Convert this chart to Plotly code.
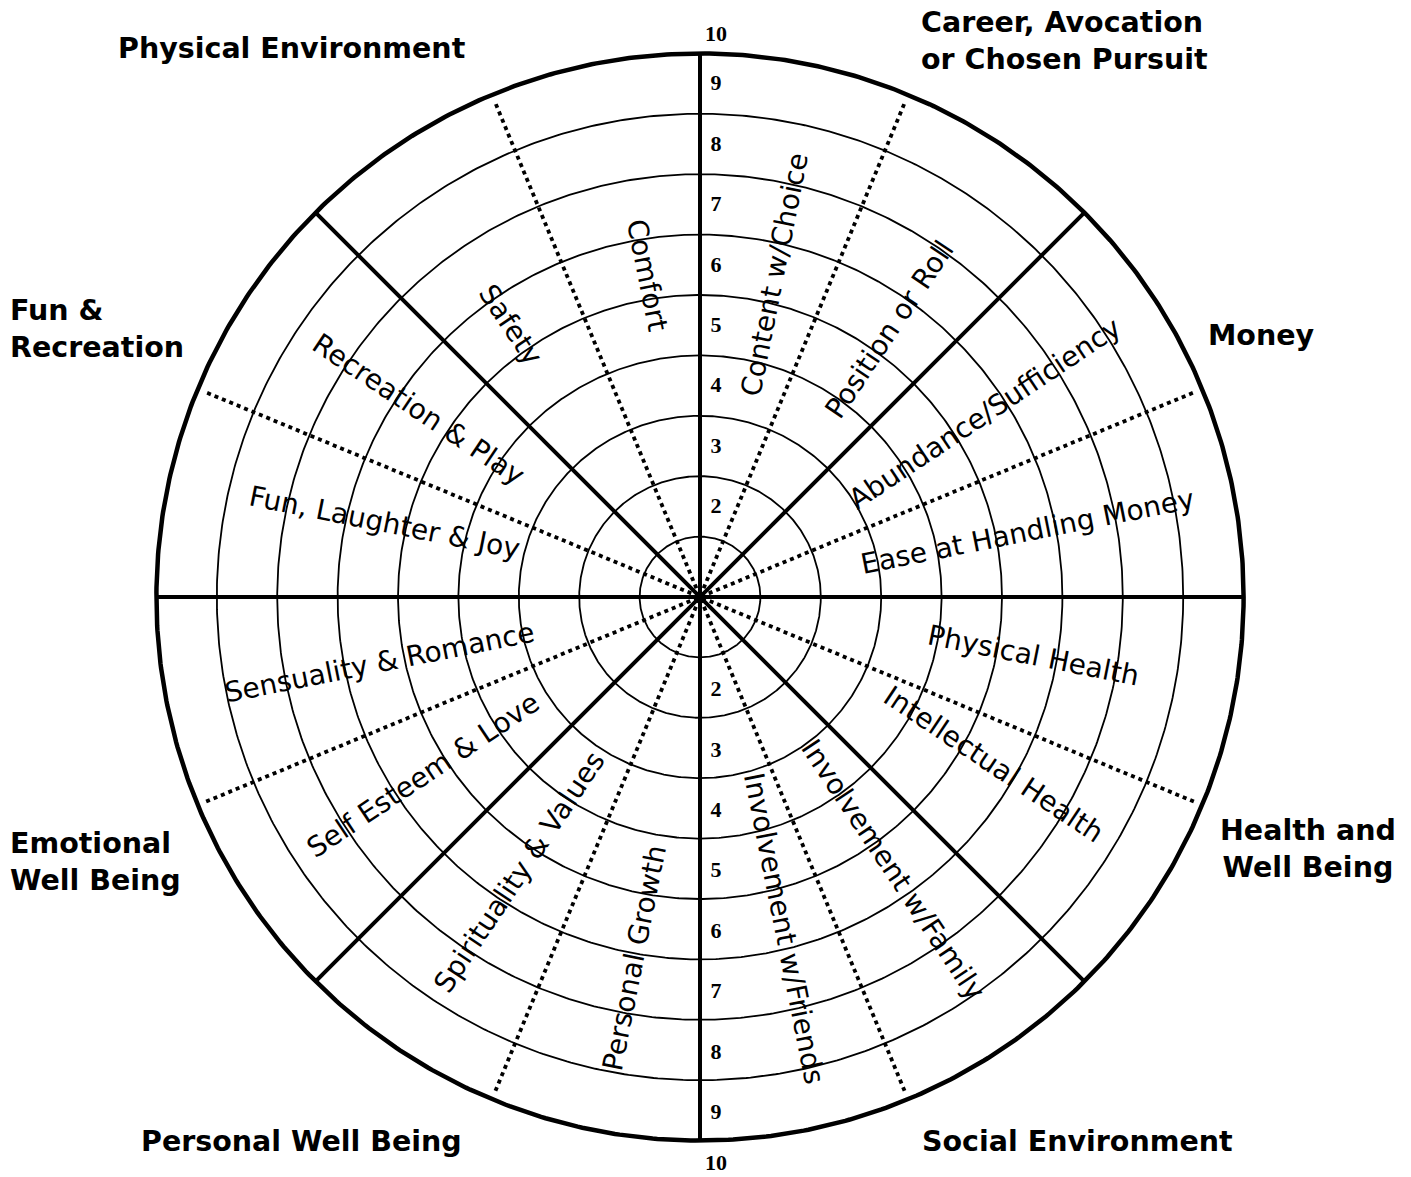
import numpy as np
import plotly.graph_objects as go

# ---------------- data ----------------
ring_values = [1, 2, 3, 4, 5, 6, 7, 8, 9]          # concentric rings (9 = outer rim)
tick_labels = ["2", "3", "4", "5", "6", "7", "8", "9", "10"]
tick_values = [2, 3, 4, 5, 6, 7, 8, 9, 10]

# main life areas (one per 45-degree sector, counter-clockwise from 0 deg)
categories = [
    "Money",
    "Career, Avocation<br>or Chosen Pursuit",
    "Physical Environment",
    "Fun &<br>Recreation",
    "Emotional<br>Well Being",
    "Personal Well Being",
    "Social Environment",
    "Health and<br>Well Being",
]

# sub areas (one per 22.5-degree half-sector, counter-clockwise from 0 deg)
sub_areas = [
    "Ease at Handling Money",
    "Abundance/Sufficiency",
    "Position or Roll",
    "Content w/Choice",
    "Comfort",
    "Safety",
    "Recreation & Play",
    "Fun, Laughter & Joy",
    "Sensuality & Romance",
    "Self Esteem & Love",
    "Spirituality & Values",
    "Personal Growth",
    "Involvement w/Friends",
    "Involvement w/Family",
    "Intellectual Health",
    "Physical Health",
]

# ---------------- layout helpers ----------------
W, H = 1411, 1177
PX = 60.4          # pixels per ring
CX, CY = 700, 597  # centre in pixels


def from_px(x, y):
    return (x - CX) / PX, (CY - y) / PX


fig = go.Figure()

theta = np.linspace(0, 2 * np.pi, 721)
for r in ring_values:
    outer = r == max(ring_values)
    fig.add_trace(go.Scatter(
        x=r * np.cos(theta), y=r * np.sin(theta), mode="lines",
        line=dict(color="black", width=4.5 if outer else 1.8),
        hoverinfo="skip", showlegend=False))

R = max(ring_values)
# solid spokes (sector borders)
for k in range(4):
    a = np.deg2rad(45 * k)
    fig.add_trace(go.Scatter(
        x=[-R * np.cos(a), R * np.cos(a)], y=[-R * np.sin(a), R * np.sin(a)],
        mode="lines", line=dict(color="black", width=4),
        hoverinfo="skip", showlegend=False))
# dotted spokes (half-sector borders)
RD = R - 0.15
for k in range(4):
    a = np.deg2rad(22.5 + 45 * k)
    fig.add_trace(go.Scatter(
        x=[-RD * np.cos(a), RD * np.cos(a)], y=[-RD * np.sin(a), RD * np.sin(a)],
        mode="lines", line=dict(color="black", width=3.8, dash="4px,4px"),
        hoverinfo="skip", showlegend=False))

# scale numbers on the vertical axis
tx = 16 / PX
top_y = [v - 0.52 if v < 10 else 9.3 for v in tick_values]
bot_y = [-(v - 0.45) if v < 10 else -9.4 for v in tick_values]
fig.add_trace(go.Scatter(
    x=[tx] * len(tick_values) * 2, y=top_y + bot_y,
    text=tick_labels + tick_labels, mode="text",
    textfont=dict(family="Liberation Serif", size=22, color="black", weight="bold"),
    hoverinfo="skip", showlegend=False))

annotations = []
# sub-area labels placed along each half-sector's middle direction
sub_r = [5.53, 5.61, 5.43, 5.48, 5.4, 5.48, 5.6, 5.37,
         5.41, 5.46, 5.44, 6.07, 5.66, 5.53, 5.6, 5.6]
sub_da = [0, -1, -1.5, -1.8, -2, 1, 0, -2,
          0.3, -1, 0.5, 1, 3, 1.5, 4, 1.3]
for i, name in enumerate(sub_areas):
    mid = 11.25 + 22.5 * i
    a = np.deg2rad(mid + sub_da[i])
    ang = -mid
    while ang <= -90:
        ang += 180
    while ang > 90:
        ang -= 180
    annotations.append(dict(
        x=sub_r[i] * np.cos(a), y=sub_r[i] * np.sin(a), text=name,
        textangle=ang, showarrow=False, xanchor="center", yanchor="middle",
        font=dict(family="DejaVu Sans", size=28, color="black")))

# main area labels (pixel positions of their anchors)
cat_pos = [
    (1261, 335, "center", "center"),
    (919, 41, "left", "left"),
    (291, 48, "center", "center"),
    (8, 329, "left", "left"),
    (8, 862, "left", "left"),
    (301, 1141, "center", "center"),
    (1077, 1141, "center", "center"),
    (1308, 849, "center", "center"),
]
for name, (px_, py_, xa, al) in zip(categories, cat_pos):
    x, y = from_px(px_, py_)
    annotations.append(dict(
        x=x, y=y, text="<b>" + name + "</b>", showarrow=False,
        xanchor=xa, yanchor="middle", align=al,
        font=dict(family="DejaVu Sans", size=28.5, color="black")))

x0, y1 = from_px(0, 0)
x1, y0 = from_px(W, H)
fig.update_layout(
    width=W, height=H, margin=dict(l=0, r=0, t=0, b=0),
    paper_bgcolor="white", plot_bgcolor="white",
    xaxis=dict(range=[x0, x1], visible=False, fixedrange=True),
    yaxis=dict(range=[y0, y1], visible=False, fixedrange=True),
    annotations=annotations, showlegend=False)

fig.write_html("out.html", config={"displayModeBar": False},
               post_script="document.body.style.margin='0';")
